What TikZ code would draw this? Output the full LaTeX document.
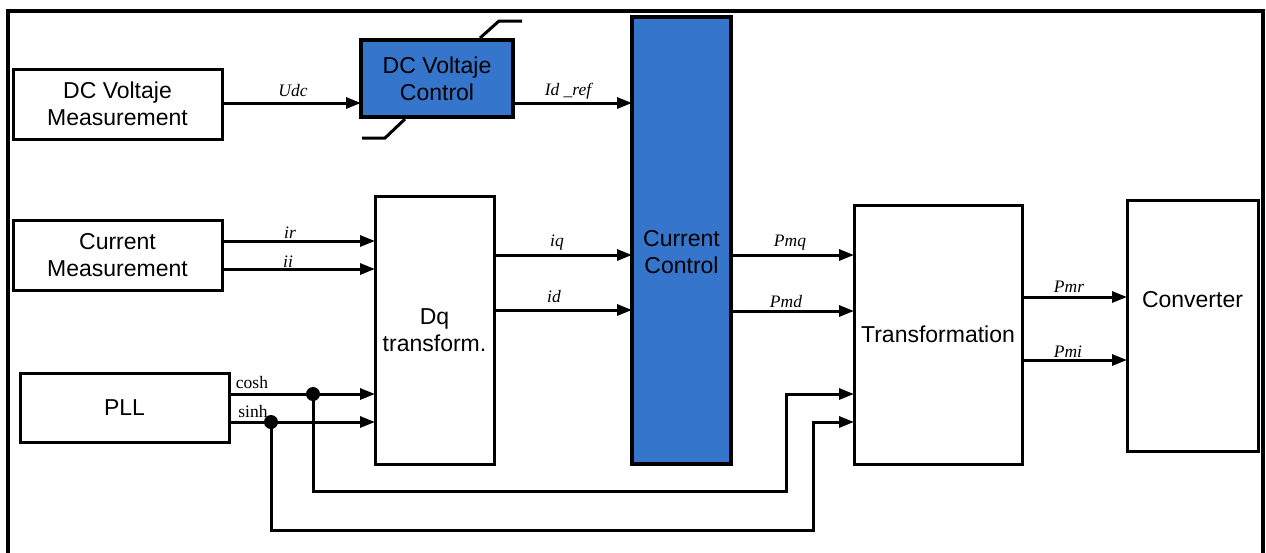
\documentclass[tikz,border=0pt]{standalone}
\usepackage{fontspec}
\setmainfont{Liberation Serif}
\setsansfont{Liberation Sans}
\usetikzlibrary{arrows.meta}
\definecolor{ctrlblue}{HTML}{3575CB}
\tikzset{
  box/.style={draw, line width=3pt, fill=white, inner sep=0pt, outer sep=0pt,
    align=center, font=\sffamily\fontsize{23}{27}\selectfont},
  bluebox/.style={box, line width=3.5pt, fill=ctrlblue},
  btext/.style={align=center, inner sep=0pt, font=\sffamily\fontsize{23}{27}\selectfont},
  arr/.style={line width=3pt, -{Triangle[length=15pt,width=11pt]}},
  wire/.style={line width=3pt},
  lab/.style={inner sep=0pt, font=\fontsize{17.5}{20}\selectfont\itshape},
  ulab/.style={inner sep=0pt, font=\fontsize{17.5}{20}\selectfont},
  dot/.style={circle, fill=black, inner sep=0pt, minimum size=14pt}
}
\begin{document}
\begin{tikzpicture}[x=1pt,y=-1pt]
\useasboundingbox (0,0) rectangle (1266,552);
% outer frame
\draw[line width=4.5pt] (8,560) -- (8,11) -- (1263,11) -- (1263,560);

% boxes
\node[box, minimum width=209pt, minimum height=70pt] (dcm) at (117.5,104) {DC Voltaje\\Measurement};
\node[box, minimum width=209pt, minimum height=70pt] (cm) at (117.5,255) {Current\\Measurement};
\node[box, minimum width=209pt, minimum height=69pt] (pll) at (124.5,407.5) {PLL};
\node[bluebox, minimum width=152pt, minimum height=77pt] (dcvc) at (437,78.5) {DC Voltaje\\Control};
\node[bluebox, minimum width=99pt, minimum height=447pt] (cc) at (681.5,240.5) {};
\node[btext] (cct) at (681.5,252) {Current\\Control};
\node[box, minimum width=119pt, minimum height=268pt] (dq) at (434.5,330) {Dq\\transform.};
\node[box, minimum width=168pt, minimum height=259pt] (tr) at (938,334.5) {Transformation};
\node[box, minimum width=131pt, minimum height=251pt] (cv) at (1192.5,325.5) {};
\node[btext] (cvt) at (1192.5,300) {Converter};

% limiter marks on DC voltage control
\draw[wire] (480,38) -- (499,21) -- (522,21);
\draw[wire] (405,119) -- (385,138) -- (362,138);

% arrows
\draw[arr] ([yshift=1pt]dcm.east) -- ([yshift=1pt]dcm.east -| dcvc.west);
\node[lab] (l_udc) at (293,91) {Udc};
\draw[arr] ([yshift=-24.5pt]dcvc.east) -- ([yshift=-24.5pt]dcvc.east -| cc.west);
\node[lab] (l_id) at (568,91) {Id \_ref};

\draw[arr] ([yshift=14pt]cm.east) -- ([yshift=14pt]cm.east -| dq.west);
\node[lab] (l_ir) at (290,233) {ir};
\draw[arr] ([yshift=-14pt]cm.east) -- ([yshift=-14pt]cm.east -| dq.west);
\node[lab] (l_ii) at (288,262) {ii};

\draw[arr] (dq.east |- 0,255) -- (cc.west |- 0,255);
\node[lab] (l_iq) at (557,243) {iq};
\draw[arr] (dq.east |- 0,310) -- (cc.west |- 0,310);
\node[lab] (l_idd) at (554,297) {id};

\draw[arr] (cc.east |- 0,255) -- (tr.west |- 0,255);
\node[lab] (l_pmq) at (790,243) {Pmq};
\draw[arr] (cc.east |- 0,311) -- (tr.west |- 0,311);
\node[lab] (l_pmd) at (786,302) {Pmd};

\draw[arr] (tr.east |- 0,297) -- (cv.west |- 0,297);
\node[lab] (l_pmr) at (1069,287) {Pmr};
\draw[arr] (tr.east |- 0,360) -- (cv.west |- 0,360);
\node[lab] (l_pmi) at (1068,352) {Pmi};

% PLL outputs
\node[dot] (j1) at (313,394) {};
\node[dot] (j2) at (271,422) {};
\draw[arr] (pll.east |- 0,394) -- (dq.west |- 0,394);
\draw[arr] (pll.east |- 0,422) -- (dq.west |- 0,422);
\node[ulab] (l_cos) at (252,383) {cosh};
\node[ulab] (l_sin) at (253,412) {sinh};
\draw[arr] (j1.center) -- (313,491) -- (786,491) -- (786,394) -- (tr.west |- 0,394);
\draw[arr] (j2.center) -- (271,530) -- (813,530) -- (813,422) -- (tr.west |- 0,422);
\end{tikzpicture}
\end{document}
